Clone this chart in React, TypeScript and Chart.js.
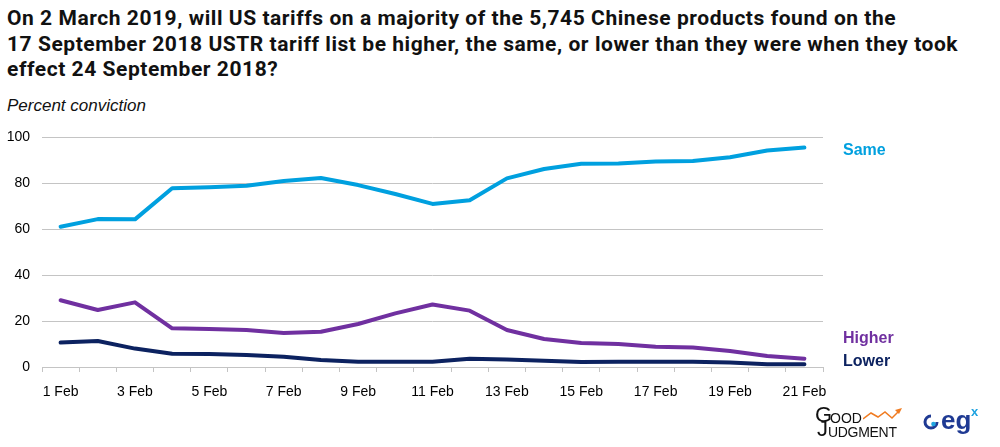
import React, { useEffect, useRef } from "react";
import { Chart, registerables } from "chart.js";

Chart.register(...registerables);

const categories = [
  "1 Feb", "2 Feb", "3 Feb", "4 Feb", "5 Feb", "6 Feb", "7 Feb", "8 Feb", "9 Feb", "10 Feb",
  "11 Feb", "12 Feb", "13 Feb", "14 Feb", "15 Feb", "16 Feb", "17 Feb", "18 Feb", "19 Feb", "20 Feb", "21 Feb",
];
const sameValues = [61, 64.3, 64.2, 77.7, 78.1, 78.8, 80.9, 82.2, 79.1, 75.2, 70.9, 72.5, 82, 86.1, 88.4, 88.5, 89.4, 89.6, 91.2, 94.1, 95.4];
const higherValues = [29, 24.8, 28.1, 16.8, 16.5, 16.1, 14.8, 15.3, 18.7, 23.3, 27.2, 24.5, 16.1, 12.2, 10.4, 10, 8.8, 8.5, 7, 4.8, 3.6];
const lowerValues = [10.6, 11.3, 8, 5.8, 5.7, 5.2, 4.5, 3, 2.3, 2.3, 2.3, 3.6, 3.3, 2.7, 2.2, 2.3, 2.3, 2.3, 2, 1.2, 1.2];
const yTicks = [0, 20, 40, 60, 80, 100];
const seriesNames = ["Same", "Higher", "Lower"];

const SAME = "#00a0df";
const HIGHER = "#7030a0";
const LOWER = "#0c2260";
const GRID = "#c4c4c4";

export default function App() {
  const ref = useRef<HTMLCanvasElement | null>(null);

  useEffect(() => {
    const canvas = ref.current;
    if (!canvas) return;
    const tickFont = { family: "'Liberation Sans', Arial, sans-serif", size: 14 };
    const chart = new Chart(canvas, {
      type: "line",
      data: {
        labels: categories,
        datasets: [
          { label: seriesNames[0], data: sameValues, borderColor: SAME, backgroundColor: SAME },
          { label: seriesNames[1], data: higherValues, borderColor: HIGHER, backgroundColor: HIGHER },
          { label: seriesNames[2], data: lowerValues, borderColor: LOWER, backgroundColor: LOWER },
        ],
      },
      options: {
        animation: false,
        responsive: false,
        maintainAspectRatio: false,
        layout: { padding: { left: 0, right: 177, top: 137, bottom: 0 } },
        plugins: { legend: { display: false }, tooltip: { enabled: false } },
        elements: {
          point: { radius: 0, hoverRadius: 0 },
          line: { tension: 0, borderWidth: 4, borderCapStyle: "round", borderJoinStyle: "round" },
        },
        scales: {
          x: {
            type: "category",
            offset: true,
            grid: { offset: true, drawOnChartArea: false, drawTicks: true, tickLength: 5, color: GRID, lineWidth: 1 },
            border: { display: true, color: GRID, width: 1 },
            ticks: {
              autoSkip: false,
              maxRotation: 0,
              minRotation: 0,
              padding: 12,
              color: "#000",
              font: tickFont,
              callback: (_v: any, i: number) => (i % 2 === 0 ? categories[i] : ""),
            },
            afterFit: (s: any) => {
              s.height = 80;
            },
          },
          y: {
            min: 0,
            max: 100,
            grid: { drawTicks: false, color: GRID, lineWidth: 1 },
            border: { display: false },
            ticks: { padding: 12, color: "#000", font: tickFont },
            afterBuildTicks: (s: any) => {
              s.ticks = yTicks.map((v) => ({ value: v }));
            },
            afterFit: (s: any) => {
              s.width = 42;
            },
          },
        },
      },
    } as any);
    return () => chart.destroy();
  }, []);

  const sans = "'Liberation Sans', Arial, sans-serif";

  return (
    <div style={{ position: "absolute", left: 0, top: 0, width: 1000, height: 447, overflow: "hidden", background: "#fff" }}>
      <div
        style={{
          position: "absolute",
          left: 7,
          top: 6,
          fontFamily: "Roboto, sans-serif",
          fontWeight: 700,
          fontSize: 21,
          letterSpacing: "0.55px",
          lineHeight: "25.5px",
          color: "#111",
          whiteSpace: "nowrap",
        }}
      >
        On 2 March 2019, will US tariffs on a majority of the 5,745 Chinese products found on the
        <br />
        17 September 2018 USTR tariff list be higher, the same, or lower than they were when they took
        <br />
        effect 24 September 2018?
      </div>
      <div
        style={{
          position: "absolute",
          left: 7,
          top: 96,
          fontFamily: sans,
          fontStyle: "italic",
          fontSize: 17,
          lineHeight: "20px",
          color: "#111",
          whiteSpace: "nowrap",
        }}
      >
        Percent conviction
      </div>
      <canvas ref={ref} width={1000} height={447} style={{ position: "absolute", left: 0, top: 0, width: 1000, height: 447 }} />
      {[
        { name: seriesNames[0], color: SAME, top: 142 },
        { name: seriesNames[1], color: HIGHER, top: 330 },
        { name: seriesNames[2], color: LOWER, top: 353 },
      ].map((l) => (
        <div
          key={l.name}
          style={{
            position: "absolute",
            left: 843,
            top: l.top,
            fontFamily: sans,
            fontWeight: 700,
            fontSize: 16,
            lineHeight: "16px",
            color: l.color,
            whiteSpace: "nowrap",
          }}
        >
          {l.name}
        </div>
      ))}
      {/* Good Judgment logo */}
      <div style={{ position: "absolute", left: 815, top: 404, width: 90, height: 36, fontFamily: sans, color: "#111" }}>
        <div style={{ position: "absolute", left: 0, top: 0, fontSize: 22, lineHeight: "22px" }}>G</div>
        <div style={{ position: "absolute", left: 15, top: 7, fontSize: 14, lineHeight: "14px" }}>OOD</div>
        <div style={{ position: "absolute", left: 2, top: 14, fontSize: 22, lineHeight: "22px" }}>J</div>
        <div style={{ position: "absolute", left: 13, top: 21, fontSize: 14, lineHeight: "14px", letterSpacing: "-0.3px" }}>UDGMENT</div>
        <svg style={{ position: "absolute", left: 48, top: 3 }} width={40} height={15} viewBox="0 0 40 15">
          <polyline points="0,12 8,6 15,10 22,5 29,11 36,4" fill="none" stroke="#f07c22" strokeWidth={1.5} />
          <polygon points="39,1 32,3 36,7" fill="#f07c22" />
        </svg>
      </div>
      {/* egx logo */}
      <div style={{ position: "absolute", left: 923, top: 404, width: 60, height: 34, fontFamily: sans }}>
        <svg style={{ position: "absolute", left: 0, top: 10 }} width={16} height={16} viewBox="0 0 16 16">
          <path d="M8 2 A6 6 0 1 0 14 8" fill="none" stroke="#1f3a93" strokeWidth={3} />
          <circle cx={10.5} cy={10} r={2.3} fill="#1fa3e0" />
        </svg>
        <div style={{ position: "absolute", left: 18, top: 3, fontSize: 26, lineHeight: "26px", fontWeight: 700, color: "#1f3a93" }}>eg</div>
        <div style={{ position: "absolute", left: 48, top: 1, fontSize: 13, lineHeight: "13px", fontWeight: 700, color: "#1fa3e0" }}>x</div>
      </div>
    </div>
  );
}
